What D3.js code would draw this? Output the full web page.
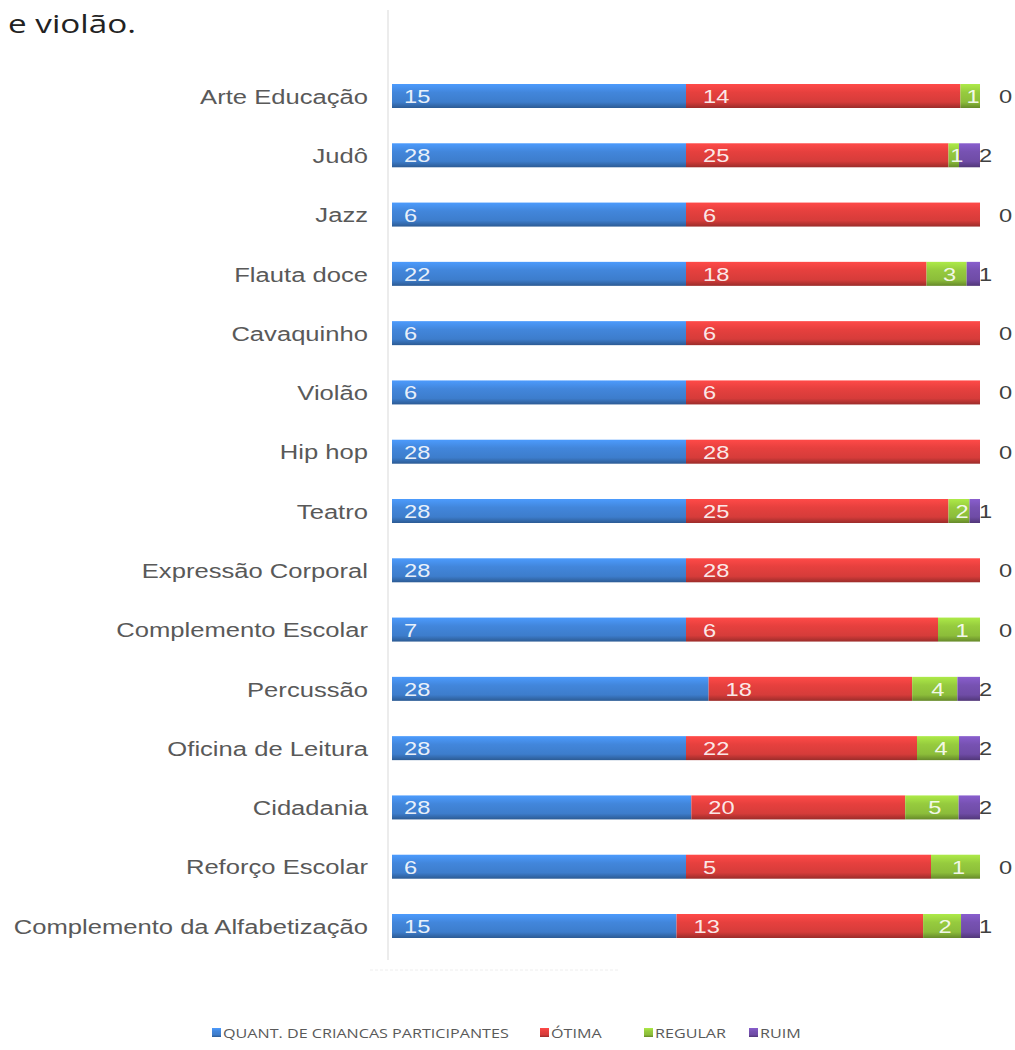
<!DOCTYPE html>
<html>
<head>
<meta charset="utf-8">
<script src="https://cdn.jsdelivr.net/npm/d3@7"></script>
<style>
  body { margin: 0; background: #fff; }
  svg { display: block; }
</style>
</head>
<body>
<div id="chart"></div>
<script>
// chart values (top row first)
let categories = ["Arte Educação", "Judô", "Jazz", "Flauta doce", "Cavaquinho", "Violão",
    "Hip hop", "Teatro", "Expressão Corporal", "Complemento Escolar", "Percussão",
    "Oficina de Leitura", "Cidadania", "Reforço Escolar", "Complemento da Alfabetização"];
let quant   = [15, 28, 6, 22, 6, 6, 28, 28, 28, 7, 28, 28, 28, 6, 15];
let otima   = [14, 25, 6, 18, 6, 6, 28, 25, 28, 6, 18, 22, 20, 5, 13];
let regular = [1, 1, 0, 3, 0, 0, 0, 2, 0, 1, 4, 4, 5, 1, 2];
let ruim    = [0, 2, 0, 1, 0, 0, 0, 1, 0, 0, 2, 2, 2, 0, 1];

let seriesNames = ["QUANT. DE CRIANCAS PARTICIPANTES", "ÓTIMA", "REGULAR", "RUIM"];
let seriesKeys = ["quant", "otima", "regular", "ruim"];
let colors = ["#3d7dcc", "#d63c3a", "#8cbd3a", "#6f4ca6"];

let svgWidth = 1015;
let svgHeight = 1050;

// the original picture is a bit wider than tall, text gets the same stretch
let stretch = 1.28;
let font = "Liberation Sans, Arial, sans-serif";

let svg = d3.select("#chart")
    .append("svg")
    .attr("width", svgWidth)
    .attr("height", svgHeight);

// table for the stack
let rows = categories.map((c, i) => ({
    cat: c, quant: quant[i], otima: otima[i], regular: regular[i], ruim: ruim[i]
}));

let stacked = d3.stack()
    .keys(seriesKeys)
    .offset(d3.stackOffsetExpand)(rows);

let xScale = d3.scaleLinear()
    .domain([0, 1])
    .range([392, 980]);

let yScale = d3.scalePoint()
    .domain(categories)
    .range([96, 926]);

let barH = 24;

// helper: put a text at x,y and stretch it horizontally
function addText(parent, x, y, txt) {
    return parent.append("text")
        .attr("transform", `translate(${x},${y}) scale(${stretch},1)`)
        .text(txt);
}

// gradients to get the glossy excel look
let defs = svg.append("defs");
colors.forEach((c, i) => {
    let g = defs.append("linearGradient")
        .attr("id", "grad" + i)
        .attr("x1", 0).attr("y1", 0).attr("x2", 0).attr("y2", 1);
    g.append("stop").attr("offset", "0%").attr("stop-color", d3.color(c).brighter(0.6));
    g.append("stop").attr("offset", "35%").attr("stop-color", d3.color(c).brighter(0.2));
    g.append("stop").attr("offset", "75%").attr("stop-color", c);
    g.append("stop").attr("offset", "100%").attr("stop-color", d3.color(c).darker(0.9));
});

// title fragment at top
addText(svg, 8, 33, "e violão.")
    .attr("font-family", "Open Sans, sans-serif")
    .attr("font-size", 26)
    .attr("fill", "#222");

// left axis with category names
let leftAxis = d3.axisLeft(yScale)
    .tickSize(0)
    .tickPadding(0);

let yAxis = svg.append("g")
    .attr("transform", "translate(388,0)")
    .call(leftAxis);

yAxis.select(".domain").remove();
yAxis.selectAll("text")
    .attr("x", 0)
    .attr("dy", "0.36em")
    .attr("transform", `translate(-20,0) scale(${stretch},1)`)
    .attr("font-family", font)
    .attr("font-size", 20)
    .attr("fill", "#595959");

svg.append("line")
    .attr("x1", 388).attr("x2", 388)
    .attr("y1", 10).attr("y2", 960)
    .attr("stroke", "#d9d9d9");

svg.append("line")
    .attr("x1", 370).attr("x2", 620)
    .attr("y1", 970).attr("y2", 970)
    .attr("stroke", "#eeeeee")
    .attr("stroke-dasharray", "3,2");

// bars
let groups = svg.selectAll("g.series")
    .data(stacked)
    .enter()
    .append("g")
    .attr("class", "series")
    .attr("fill", (d, i) => "url(#grad" + i + ")");

groups.selectAll("rect")
    .data(d => d)
    .enter()
    .append("rect")
    .attr("x", d => xScale(d[0]))
    .attr("y", d => yScale(d.data.cat) - barH / 2)
    .attr("width", d => Math.max(0, xScale(d[1]) - xScale(d[0])))
    .attr("height", barH);

// value labels
let labels = svg.append("g");
stacked.forEach((s, si) => {
    let key = seriesKeys[si];
    s.forEach(d => {
        let v = d.data[key];
        let x0 = xScale(d[0]);
        let x1 = xScale(d[1]);
        let y = yScale(d.data.cat) + 7;
        let x, anchor = "start", fill = "#fff";
        if (si === 0) {
            x = x0 + 12;
        } else if (si === 1) {
            x = x0 + 17;
        } else if (si === 2) {
            if (v === 0) return;
            x = (x0 + x1) / 2 + 3;
            anchor = "middle";
        } else {
            fill = "#404040";
            x = v === 0 ? 999 : 979;
        }
        addText(labels, x, y, v)
            .attr("text-anchor", anchor)
            .attr("font-family", font)
            .attr("font-size", 18.5)
            .attr("fill", fill)
            .attr("fill-opacity", si < 3 ? 0.9 : 1);
    });
});

// legend
let legendX = [212, 540, 644, 749];
let legend = svg.append("g");
seriesNames.forEach((name, i) => {
    legend.append("rect")
        .attr("x", legendX[i])
        .attr("y", 1028)
        .attr("width", 9)
        .attr("height", 9)
        .attr("fill", "url(#grad" + i + ")");
    addText(legend, legendX[i] + 11, 1038, name)
        .attr("font-family", "Open Sans, sans-serif")
        .attr("font-size", 12.6)
        .attr("fill", "#595959");
});
</script>
</body>
</html>
